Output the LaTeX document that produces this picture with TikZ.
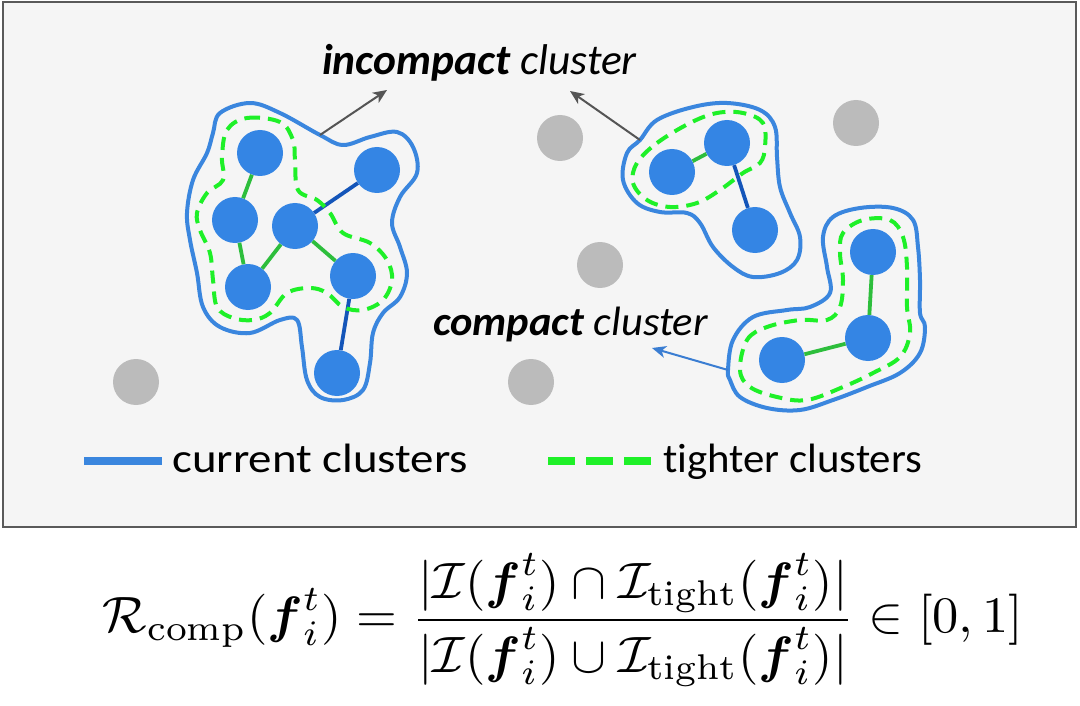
\documentclass[tikz,border=0pt]{standalone}
\usepackage{amsmath}
\usepackage{graphicx}
\usepackage{fontspec}
\usetikzlibrary{arrows.meta}
\newfontfamily\labfont[Ligatures=NoCommon]{Carlito}
\definecolor{nodeblue}{RGB}{52,133,228}
\definecolor{outblue}{RGB}{58,134,222}
\definecolor{edgegreen}{RGB}{45,190,60}
\definecolor{edgeblue}{RGB}{20,85,185}
\definecolor{dashgreen}{RGB}{30,240,40}
\definecolor{dotgray}{RGB}{187,187,187}
\definecolor{panelfill}{RGB}{245,245,245}
\definecolor{panelline}{RGB}{90,90,90}
\definecolor{arrgray}{RGB}{85,85,85}
\definecolor{arrblue}{RGB}{58,125,210}
\tikzset{
  pt/.style={circle,fill=nodeblue,minimum size=46pt,inner sep=0pt},
  gpt/.style={circle,fill=dotgray,minimum size=46pt,inner sep=0pt},
  blob/.style={draw=outblue,line width=4pt,line join=round},
  tight/.style={draw=dashgreen,line width=4pt,dash pattern=on 13pt off 8pt},
  ge/.style={draw=edgegreen,line width=3.8pt},
  be/.style={draw=edgeblue,line width=3.8pt},
  arr/.style={draw=arrgray,line width=2pt,-{Stealth[length=14pt,width=12pt,inset=4pt]}},
  barr/.style={draw=arrblue,line width=2pt,-{Stealth[length=14pt,width=12pt,inset=4pt]}},
  txt/.style={inner sep=0pt,anchor=base west,font=\labfont},
}
\begin{document}
\begin{tikzpicture}[x=1pt,y=-1pt]
\useasboundingbox (0,0) rectangle (1080,706);
\fill[white] (0,0) rectangle (1080,706);
\draw[fill=panelfill,draw=panelline,line width=2pt] (3,2) rectangle (1076,527);
% blobs (current clusters)
\draw[blob] plot[smooth cycle,tension=0.6] coordinates {(220,113) (250,103) (280,113) (320,135) (343,145) (370,137) (397,132) (413,147) (417,173) (400,197) (392,223) (400,247) (407,273) (400,297) (383,313) (373,333) (370,363) (363,390) (343,400) (320,397) (307,380) (302,347) (297,320) (280,320) (250,333) (220,327) (203,307) (197,273) (190,240) (187,213) (193,180) (207,153) (213,133)};
\draw[blob] plot[smooth cycle,tension=0.6] coordinates {(640,140) (657,120) (693,107) (727,103) (760,110) (775,127) (777,157) (780,187) (790,213) (800,237) (797,260) (780,273) (753,277) (733,267) (713,247) (700,223) (687,213) (660,212) (637,203) (623,180) (627,153)};
\draw[blob] plot[smooth cycle,tension=0.6] coordinates {(728,370) (733,340) (753,317) (787,310) (810,307) (830,293) (827,267) (823,237) (833,217) (860,208) (893,208) (913,220) (918,247) (920,280) (920,313) (925,327) (920,353) (900,373) (867,387) (833,400) (800,410) (767,408) (740,397) (730,380)};
% gray points
\node[gpt] (g1) at (560,138) {};
\node[gpt] (g2) at (856,123) {};
\node[gpt] (g3) at (600,265) {};
\node[gpt] (g4) at (136,382) {};
\node[gpt] (g5) at (531,382) {};
% cluster 1
\node[pt] (a) at (260,153) {};
\node[pt] (b) at (377,170) {};
\node[pt] (c) at (235,220) {};
\node[pt] (d) at (295,226) {};
\node[pt] (e) at (248,287) {};
\node[pt] (f) at (353,276) {};
\node[pt] (g) at (337,373) {};
% cluster 2
\node[pt] (h) at (672,172) {};
\node[pt] (i) at (727,143) {};
\node[pt] (j) at (755,230) {};
% cluster 3
\node[pt] (k) at (873,252) {};
\node[pt] (l) at (868,338) {};
\node[pt] (m) at (782,360) {};
% edges
\draw[ge] (a) -- (c);
\draw[ge] (c) -- (e);
\draw[ge] (e) -- (d);
\draw[ge] (d) -- (f);
\draw[be] (d) -- (b);
\draw[be] (f) -- (g);
\draw[ge] (h) -- (i);
\draw[be] (i) -- (j);
\draw[ge] (k) -- (l);
\draw[ge] (l) -- (m);
% tighter clusters
\draw[tight] plot[smooth cycle,tension=0.6] coordinates {(227,130) (247,118) (280,122) (293,140) (295,160) (298,190) (317,200) (330,213) (343,233) (370,243) (387,260) (392,280) (383,300) (363,310) (343,307) (327,293) (310,288) (287,293) (270,313) (253,320) (233,318) (217,307) (213,280) (210,253) (200,230) (197,213) (207,193) (223,180) (222,157)};
\draw[tight] plot[smooth cycle,tension=0.6] coordinates {(637,163) (657,143) (690,123) (717,113) (743,113) (763,123) (765,147) (760,163) (743,173) (720,190) (697,203) (670,207) (647,200) (633,183)};
\draw[tight] plot[smooth cycle,tension=0.6] coordinates {(740,370) (747,340) (767,327) (800,320) (827,320) (840,307) (843,280) (840,253) (843,233) (863,220) (890,220) (903,237) (907,267) (907,307) (910,333) (900,357) (873,373) (843,387) (807,400) (777,397) (750,387)};
% labels and arrows
\node[txt] (inc) at (322,75) {\resizebox{315pt}{\height}{\fontsize{43}{51}\selectfont\textbf{\textit{incompact}} \textit{cluster}}};
\node[txt] (cmp) at (433,335) {\resizebox{275pt}{\height}{\fontsize{41}{49}\selectfont\textbf{\textit{compact}} \textit{cluster}}};
\coordinate (a1s) at (320,135);
\coordinate (a1e) at (387,90);
\coordinate (a2s) at (640,140);
\coordinate (a2e) at (570,91);
\coordinate (a3s) at (728,370);
\coordinate (a3e) at (652,348);
\draw[arr] (a1s) -- (a1e);
\draw[arr] (a2s) -- (a2e);
\draw[barr] (a3s) -- (a3e);
% legend
\coordinate (l1s) at (84,461);
\coordinate (l1e) at (162,461);
\coordinate (l2s) at (548,461);
\coordinate (l2e) at (655,461);
\draw[draw=outblue,line width=8pt] (l1s) -- (l1e);
\draw[draw=dashgreen,line width=8pt,dash pattern=on 27pt off 11pt] (l2s) -- (l2e);
\node[txt] (cur) at (172,472) {\resizebox{296pt}{\height}{\fontsize{41}{49}\selectfont current clusters}};
\node[txt] (tig) at (663,472) {\resizebox{259pt}{\height}{\fontsize{41}{49}\selectfont tighter clusters}};
% formula
\node[inner sep=0pt,anchor=north] (eq) at (563,553)
 {\resizebox*{920pt}{134pt}{$\displaystyle \mathcal{R}_{\mathrm{comp}}(\boldsymbol{f}_i^t)=\frac{|\mathcal{I}(\boldsymbol{f}_i^t)\cap\mathcal{I}_{\mathrm{tight}}(\boldsymbol{f}_i^t)|}{|\mathcal{I}(\boldsymbol{f}_i^t)\cup\mathcal{I}_{\mathrm{tight}}(\boldsymbol{f}_i^t)|}\in[0,1]$}};
\end{tikzpicture}
\end{document}
